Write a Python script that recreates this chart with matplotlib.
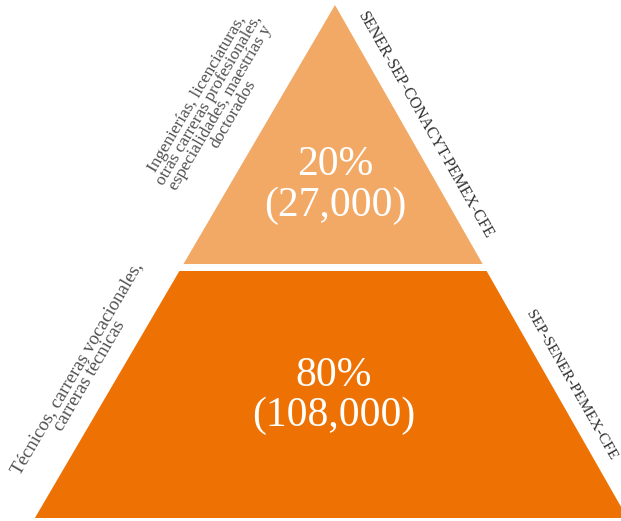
import numpy as np
import matplotlib.pyplot as plt
from matplotlib.patches import Polygon

plt.rcParams['font.family'] = ['Liberation Serif', 'DejaVu Serif']

# Data
shares = ['20%', '80%']
counts = ['(27,000)', '(108,000)']
levels = ['Ingenierías, licenciaturas,\notras carreras profesionales,\nespecialidades, maestrías y\ndoctorados',
          'Técnicos, carreras vocacionales,\ncarreras técnicas']
agencies = ['SENER-SEP-CONACYT-PEMEX-CFE', 'SEP-SENER-PEMEX-CFE']
colors = ['#F2A966', '#EE7203']

# Pyramid layout (pixel space)
apex_x, apex_y = 335, 5
slope_l, slope_r = 0.585, 0.570   # horizontal px per vertical px
bands = [(apex_y, 264), (271, 518)]


def edges(y):
    dy = y - apex_y
    return apex_x - slope_l * dy, apex_x + slope_r * dy


fig = plt.figure(figsize=(6.21, 5.21), dpi=100)
ax = fig.add_axes([0, 0, 1, 1])
ax.set_xlim(0, 621)
ax.set_ylim(521, 0)
ax.axis('off')

ang_l = np.degrees(np.arctan(1 / slope_l))
ang_r = np.degrees(np.arctan(1 / slope_r))

for i, (y0, y1) in enumerate(bands):
    l0, r0 = edges(y0)
    l1, r1 = edges(y1)
    ax.add_patch(Polygon([(l0, y0), (r0, y0), (r1, y1), (l1, y1)],
                         closed=True, facecolor=colors[i], edgecolor='none'))

# Labels inside the layers
ax.text(335, 165, shares[0], ha='center', va='center', color='white', fontsize=30)
ax.text(335, 206, counts[0], ha='center', va='center', color='white', fontsize=30)
ax.text(334, 376, shares[1], ha='center', va='center', color='white', fontsize=30)
ax.text(334, 416, counts[1], ha='center', va='center', color='white', fontsize=30)

# Side labels
ax.text(215, 104, levels[0], ha='center', va='center', rotation=ang_l,
        rotation_mode='anchor', color='#505050', fontsize=12.5, linespacing=0.82,
        multialignment='center')
ax.text(83, 372, levels[1], ha='center', va='center', rotation=ang_l,
        rotation_mode='anchor', color='#505050', fontsize=13.5, linespacing=0.82,
        multialignment='center')
ax.text(425, 125, agencies[0], ha='center', va='center', rotation=-ang_r,
        rotation_mode='anchor', color='#303030', fontsize=11.5)
ax.text(571, 385, agencies[1], ha='center', va='center', rotation=-ang_r,
        rotation_mode='anchor', color='#303030', fontsize=11)

fig.savefig('out.png', dpi=100)
